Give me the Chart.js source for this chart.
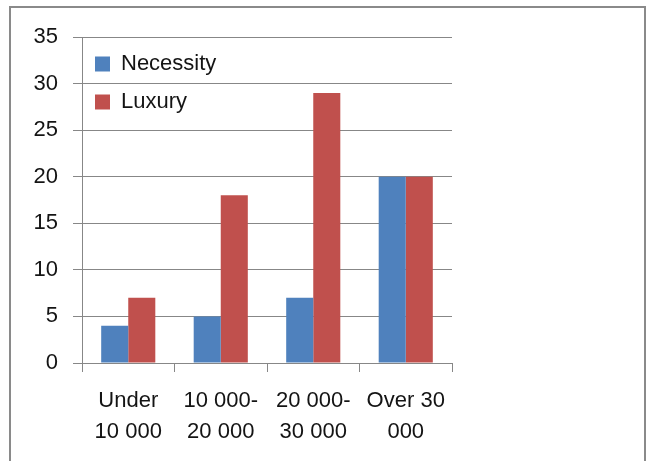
<!DOCTYPE html>
<html>
<head>
<meta charset="utf-8">
<script src="https://cdn.jsdelivr.net/npm/chart.js@4.4.1/dist/chart.umd.min.js"></script>
<style>
    html, body { margin: 0; padding: 0; background: #fff; }
    #wrap { position: relative; width: 647px; height: 461px; overflow: hidden; }
    #frame { position: absolute; left: 9px; top: 6px; width: 633px; height: 480px; border: 2px solid #8a8a8a; }
    #myChart { position: absolute; left: 0; top: 0; }
</style>
</head>
<body>
<div id="wrap">
    <div id="frame"></div>
    <canvas id="myChart" width="647" height="461"></canvas>
</div>

<script>
    // income groups and number of people buying each kind of good
    var categories = [["Under", "10 000"], ["10 000-", "20 000"], ["20 000-", "30 000"], ["Over 30", "000"]];
    var necessity = [4, 5, 7, 20];
    var luxury = [7, 18, 29, 20];
    var yTicks = [0, 5, 10, 15, 20, 25, 30, 35];

    var gridColor = "#878787";
    var textColor = "#141414";
    var font = "'Liberation Sans', Arial, sans-serif";

    // a vertical legend in the chartArea gets top = 0, so push it down into the plot
    var legendInPlot = {
        id: "legendInPlot",
        afterLayout: function (chart) {
            var lg = chart.legend;
            if (!lg) return;
            var dy = chart.chartArea.top - lg.top;
            lg.top += dy;
            lg.bottom += dy;
            lg.left = chart.chartArea.left - 3;
        }
    };

    new Chart("myChart", {
        type: "bar",
        data: {
            labels: categories,
            datasets: [
                {
                    label: "Necessity",
                    data: necessity,
                    backgroundColor: "#4f81bd",
                    categoryPercentage: 0.585,
                    barPercentage: 1
                },
                {
                    label: "Luxury",
                    data: luxury,
                    backgroundColor: "#c0504d",
                    categoryPercentage: 0.585,
                    barPercentage: 1
                }
            ]
        },
        plugins: [legendInPlot],
        options: {
            responsive: false,
            animation: false,
            layout: { padding: { left: 0, top: 37, right: 195, bottom: 0 } },
            plugins: {
                tooltip: { enabled: false },
                legend: {
                    display: true,
                    position: "chartArea",
                    align: "start",
                    labels: {
                        boxWidth: 15,
                        boxHeight: 15,
                        padding: 16,
                        color: textColor,
                        font: { family: font, size: 22 }
                    }
                }
            },
            scales: {
                x: {
                    afterFit: function (scale) { scale.height = 98; },
                    grid: {
                        offset: true,
                        drawOnChartArea: false,
                        drawTicks: true,
                        tickLength: 9,
                        color: gridColor
                    },
                    border: { display: false },
                    ticks: {
                        color: textColor,
                        padding: 13,
                        maxRotation: 0,
                        autoSkip: false,
                        font: { family: font, size: 22, lineHeight: 1.41 }
                    }
                },
                y: {
                    min: 0,
                    max: 35,
                    afterFit: function (scale) { scale.width = 82; },
                    afterBuildTicks: function (scale) {
                        scale.ticks = yTicks.map(function (v) { return { value: v }; });
                    },
                    grid: {
                        drawTicks: true,
                        tickLength: 9,
                        color: gridColor
                    },
                    border: { display: true, color: gridColor },
                    ticks: {
                        color: textColor,
                        padding: 15,
                        font: { family: font, size: 22 }
                    }
                }
            }
        }
    });
</script>
</body>
</html>
